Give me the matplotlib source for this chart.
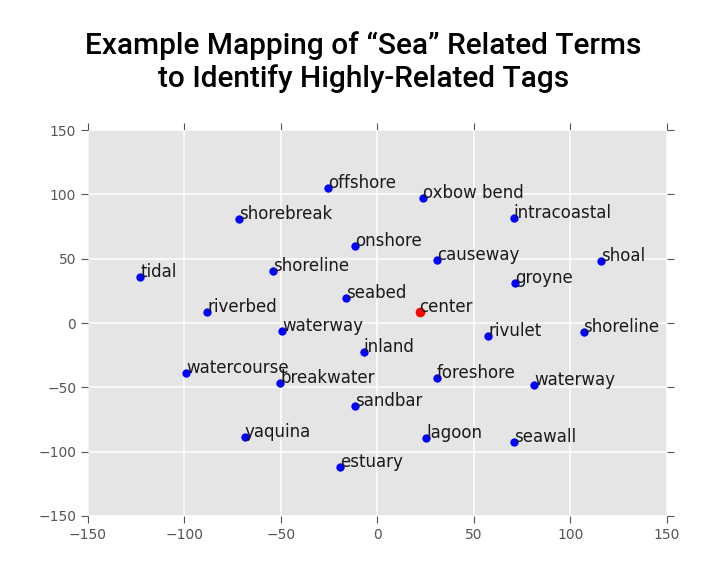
import numpy as np
import matplotlib
matplotlib.use('Agg')
import matplotlib.pyplot as plt

# ---------------- data ----------------
terms = ['offshore', 'shorebreak', 'tidal', 'shoreline', 'onshore', 'seabed',
         'riverbed', 'oxbow bend', 'intracoastal', 'causeway', 'shoal', 'groyne',
         'waterway', 'inland', 'watercourse', 'breakwater', 'sandbar', 'yaquina',
         'estuary', 'rivulet', 'shoreline', 'foreshore', 'waterway', 'lagoon',
         'seawall']
x_vals = [-25.6, -71.9, -122.8, -53.9, -11.6, -16.0,
          -88.2, 23.9, 70.7, 31.0, 115.8, 71.6,
          -49.5, -7.1, -99.0, -50.2, -11.4, -68.7,
          -19.1, 57.4, 106.9, 31.0, 81.2, 25.3,
          70.9]
y_vals = [104.7, 80.6, 35.7, 40.6, 60.1, 19.2,
          8.5, 96.9, 81.3, 49.2, 48.2, 30.8,
          -6.0, -22.5, -39.1, -46.9, -64.5, -88.6,
          -111.9, -9.9, -7.0, -43.0, -47.9, -89.4,
          -92.5]
center_x, center_y = 21.9, 8.3

ticks = [-150, -100, -50, 0, 50, 100, 150]

# ---------------- plot ----------------
fig = plt.figure(figsize=(7.27, 5.81), dpi=100)
ax = fig.add_axes([0.121, 0.112, 0.796, 0.664])
ax.set_facecolor('#E5E5E5')
ax.set_axisbelow(True)
ax.grid(True, color='white', linewidth=1.1)
for s in ax.spines.values():
    s.set_visible(False)

ax.plot(x_vals, y_vals, 'o', color='blue', markersize=6, markeredgewidth=0)
ax.plot([center_x], [center_y], 'o', color='red', markersize=7, markeredgewidth=0)
for t, xv, yv in zip(terms, x_vals, y_vals):
    ax.text(xv, yv, t, fontsize=12, color='#1a1a1a', ha='left', va='baseline')
ax.text(center_x, center_y, 'center', fontsize=12, color='#1a1a1a', ha='left', va='baseline')

ax.set_xlim(-150, 150)
ax.set_ylim(-150, 150)
ax.set_xticks(ticks)
ax.set_yticks(ticks)
ax.tick_params(direction='out', length=5, color='#555555', labelcolor='#555555',
               labelsize=10, top=True, right=True)

fig.suptitle('Example Mapping of \u201cSea\u201d Related Terms\nto Identify Highly-Related Tags',
             x=0.5, y=0.947, fontsize=21.5, family='Roboto', fontweight='medium',
             linespacing=1.2)

fig.savefig('out.png', dpi=100, facecolor='white')
